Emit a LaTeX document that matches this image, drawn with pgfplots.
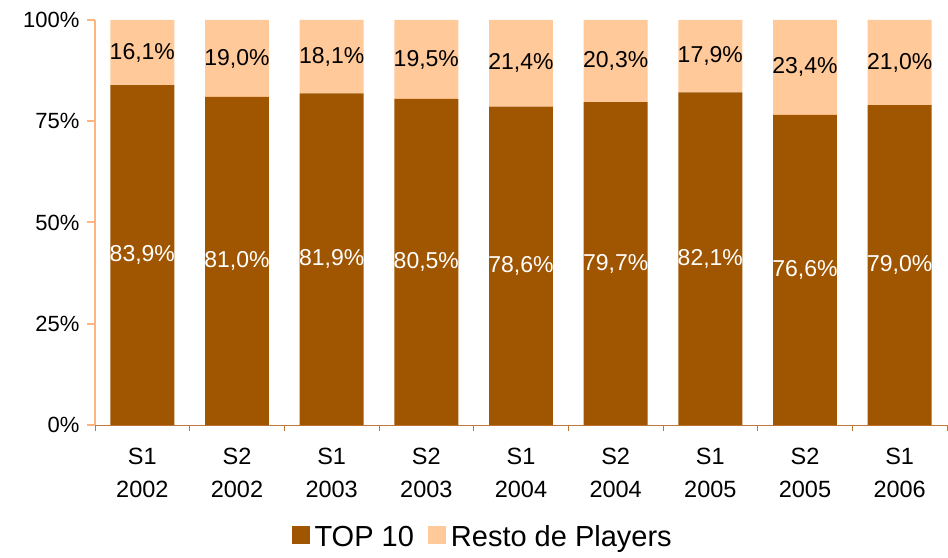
\documentclass[border=0pt]{standalone}
\usepackage{pgfplots}
\pgfplotsset{compat=1.18}
\usepackage{pgfplotstable}
\usepackage{fontspec}
\setmainfont{Liberation Sans}
\usetikzlibrary{calc}
\definecolor{brownbar}{RGB}{160,85,0}
\definecolor{peach}{RGB}{255,201,153}
\definecolor{yaxcol}{RGB}{255,180,128}
\definecolor{xaxcol}{RGB}{190,120,60}

\pgfplotstableread{
x top resto
0 83.9 16.1
1 81.0 19.0
2 81.9 18.1
3 80.5 19.5
4 78.6 21.4
5 79.7 20.3
6 82.1 17.9
7 76.6 23.4
8 79.0 21.0
}\data

\begin{document}
\begin{tikzpicture}
\begin{axis}[
  name=ax,
  at={(0,0)}, anchor=south west,
  scale only axis,
  width=852pt, height=405pt,
  ybar stacked,
  bar width=0.675,
  xmin=-0.5, xmax=8.5,
  ymin=0, ymax=100,
  enlargelimits=false,
  axis x line*=bottom,
  axis y line*=left,
  x axis line style={xaxcol, line width=1pt, -},
  y axis line style={yaxcol, line width=2pt, -},
  tick align=outside,
  xtick={0,...,8},
  xticklabels={{S1\\2002},{S2\\2002},{S1\\2003},{S2\\2003},{S1\\2004},{S2\\2004},{S1\\2005},{S2\\2005},{S1\\2006}},
  major x tick style={draw=none},
  minor xtick={-0.5,0.5,...,8.5},
  minor x tick style={draw=xaxcol, line width=1pt},
  minor tick length=6pt,
  major tick length=8pt,
  ytick={0,25,50,75,100},
  yticklabel={\pgfmathprintnumber{\tick}\%},
  y tick style={draw=yaxcol, line width=2pt},
  /pgf/number format/assume math mode=true,
  x tick label style={font=\fontsize{23.5}{33}\selectfont, align=center, anchor=north, yshift=-12pt},
  y tick label style={font=\fontsize{22}{26}\selectfont, xshift=-4pt},
  nodes near coords={\pgfmathprintnumber[fixed, fixed zerofill, precision=1, use comma]{\pgfplotspointmeta}\%},
  every node near coord/.append style={font=\fontsize{23}{26}\selectfont, anchor=center},
  legend style={at={(0.455,-0.2765)}, anchor=center, draw=none, fill=none,
    legend columns=-1, font=\fontsize{29}{32}\selectfont,
    /tikz/every odd column/.append style={column sep=3pt},
    /tikz/every even column/.append style={column sep=12pt}},
  legend image code/.code={\fill[#1] (0pt,-7pt) rectangle (18pt,11pt);},
]
\addplot[fill=brownbar, draw=none, point meta=explicit,
  every node near coord/.append style={text=white}]
  table[x=x, y=top, meta=top] {\data};
\addlegendentry{TOP 10}
\addplot[fill=peach, draw=none, point meta=explicit,
  every node near coord/.append style={text=black}]
  table[x=x, y=resto, meta=resto] {\data};
\addlegendentry{Resto de Players}
\end{axis}
\pgfresetboundingbox
\path ($(ax.south west)+(-95pt,-133pt)$) rectangle ($(ax.north east)+(1pt,20pt)$);
\end{tikzpicture}
\end{document}
